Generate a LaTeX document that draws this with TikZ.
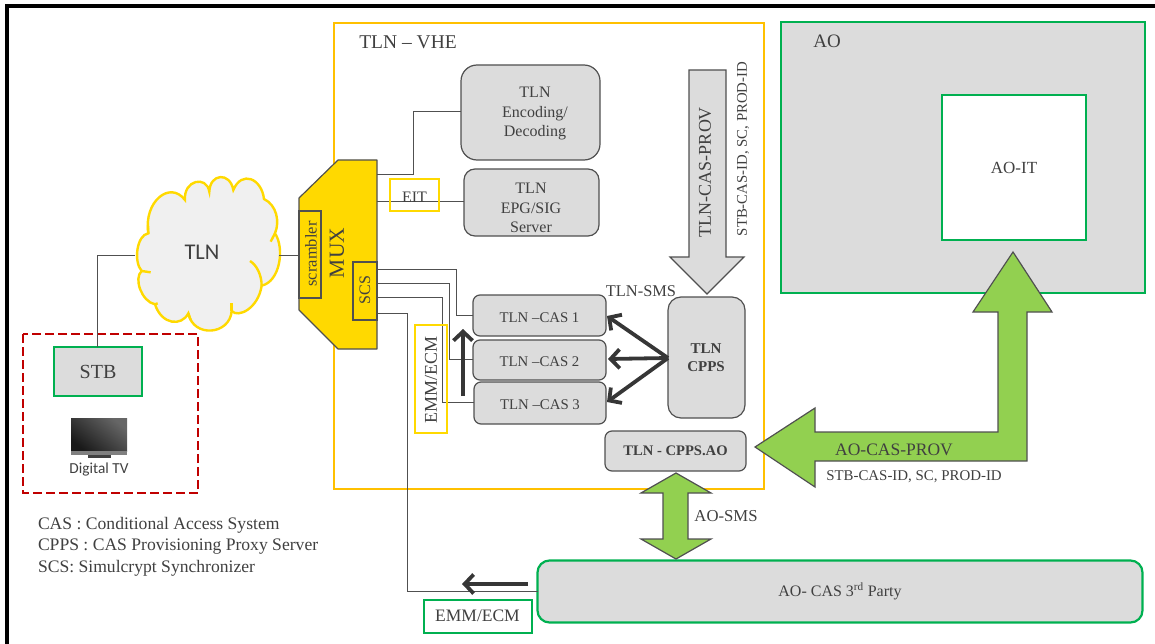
\documentclass[tikz,border=0pt]{standalone}
\usepackage{fontspec}
\setmainfont{Liberation Serif}
\newfontfamily\labelsans{Carlito}
\usepackage{xcolor}
\usetikzlibrary{arrows.meta}

\definecolor{boxgrey}{HTML}{DCDCDC}
\definecolor{edgegrey}{HTML}{505050}
\definecolor{inkgrey}{HTML}{404040}
\definecolor{framegreen}{HTML}{00B050}
\definecolor{arrowgreen}{HTML}{92D050}
\definecolor{muxyellow}{HTML}{FFD900}
\definecolor{vheorange}{HTML}{FFC000}
\definecolor{homered}{HTML}{C00000}

\tikzset{
	txt/.style={text=inkgrey,inner sep=0pt,outer sep=0pt,font=\fontsize{16}{19.5}\selectfont,align=center},
	graybox/.style={txt,draw=edgegrey,fill=boxgrey,line width=1.2pt,rounded corners=#1},
	graybox/.default=8pt,
	greenbox/.style={txt,draw=framegreen,fill=boxgrey,line width=2pt},
	yellowbox/.style={txt,draw=muxyellow,line width=1.5pt},
	casbox/.style={graybox=7pt,font=\fontsize{14.8}{18}\selectfont,text height=13pt,text depth=0pt},
	wire/.style={draw=edgegrey,line width=1pt},
	thickarrow/.style={draw=inkgrey!85!black,line width=3.8pt,-{Straight Barb[length=9pt,width=19pt,line width=3.8pt]}},
	bigarrow/.style={draw=edgegrey,line width=1.2pt,line join=miter},
}

\begin{document}
\begin{tikzpicture}[x=1pt,y=-1pt]
	\useasboundingbox (0,0) rectangle (1155,644);

	% outer frame
	\draw[line width=4pt,black] (7,644) -- (7,6) -- (1155,6);

	% containers
	\draw[draw=vheorange,line width=2pt] (334,23) rectangle (764,489);
	\node[txt,font=\fontsize{19.5}{22}\selectfont] (vhe) at (408,42) {TLN -- VHE};
	\node[greenbox,minimum width=364pt,minimum height=271pt] (ao) at (963,157.5) {};
	\node[txt,font=\fontsize{19}{22}\selectfont] (aotitle) at (827,41) {AO};
	\node[greenbox,fill=white,minimum width=144pt,minimum height=145pt,font=\fontsize{17}{20}\selectfont] (aoit) at (1014,167.5) {AO-IT};

	% home network
	\draw[draw=homered,line width=1.4pt,dash pattern=on 9pt off 4pt] (23,334) rectangle (198,493);
	\node[greenbox,line width=1.5pt,minimum width=88pt,minimum height=49pt,font=\fontsize{20}{22}\selectfont] (stb) at (98,371.5) {STB};
	\shade[top color=black!60,bottom color=black!90,shading angle=-40] (71,418) rectangle (127,451);
	\fill[black!50] (71,451) rectangle (127,455);
	\fill[black!75] (88,455) rectangle (111,458);
	\node[txt,font=\labelsans\fontsize{15.3}{17}\selectfont] (tv) at (99,469) {Digital TV};

	% cloud
	\begin{scope}[shift={(120,175)},x=0.3333pt,y=-0.3333pt,draw=muxyellow,line width=2.4pt]
		\filldraw[fill=black!6] (85,175) .. controls (70,80) and (150,15) .. (195,75)
			.. controls (190,15) and (260,0) .. (268,50)
			.. controls (270,-5) and (330,-10) .. (340,45)
			.. controls (365,-15) and (425,10) .. (432,72)
			.. controls (470,90) and (480,140) .. (465,175)
			.. controls (495,220) and (480,320) .. (425,332)
			.. controls (415,400) and (355,430) .. (335,408)
			.. controls (330,480) and (220,490) .. (205,415)
			.. controls (185,455) and (125,450) .. (105,388)
			.. controls (65,380) and (40,310) .. (65,288)
			.. controls (40,260) and (50,180) .. (85,175) -- cycle;
		\draw (425,332) .. controls (425,300) and (410,270) .. (390,258);
		\draw (465,175) -- (452,200);
		\draw (335,408) -- (335,385);
		\draw (65,288) -- (92,292);
		\draw (105,388) -- (113,385);
		\draw (85,175) -- (84,150);
		\draw (205,415) -- (212,435);
	\end{scope}
	\node[txt,font=\labelsans\fontsize{22.5}{25}\selectfont] (tln) at (202,252) {TLN};
	\coordinate (cloudw) at (135,255);
	\coordinate (cloude) at (279,255);
	\draw[wire] (cloudw) -- (97,255) -- (stb.north -| 97,0);

	% connectors behind the boxes
	\coordinate (muxa) at (377,175);
	\coordinate (muxb) at (377,202);
	\coordinate (scsa) at (377,269);
	\coordinate (scsb) at (377,283);
	\coordinate (scsc) at (377,297);
	\coordinate (scsd) at (377,313);

	% mux
	\filldraw[fill=muxyellow,draw=edgegrey,line width=1.2pt,line join=round] (338,160) -- (377,160) -- (377,349) -- (338,349) -- (299,310) -- (299,198) -- cycle;
	\node[txt,draw=edgegrey,fill=muxyellow,line width=1.2pt,minimum width=22pt,minimum height=87pt] (scrbox) at (310,254.5) {};
	\node[txt,rotate=90,font=\fontsize{16.5}{18}\selectfont] (scrambler) at (311,254) {scrambler};
	\node[txt,rotate=90,font=\fontsize{21.5}{24}\selectfont] (mux) at (337,253) {MUX};
	\node[txt,draw=edgegrey,fill=muxyellow,line width=1.2pt,minimum width=24pt,minimum height=58pt] (scsbox) at (365,291) {};
	\node[txt,rotate=90] (scs) at (365,290) {SCS};
	\draw[wire] (cloude) -- (scrbox.west |- cloude);

	% boxes
	\node[graybox=16pt,minimum width=139pt,minimum height=95pt] (enc) at (530.5,112.5) {};
	\node[txt] (enctxt) at (535,113.5) {TLN\\Encoding/\\Decoding};
	\node[graybox=11pt,minimum width=135pt,minimum height=67pt] (epg) at (531.5,202.5) {};
	\node[txt] (epgtxt) at (531,208) {TLN\\EPG/SIG\\Server};
	\node[casbox,minimum width=133pt,minimum height=41pt] (casa) at (539.5,315.5) {TLN --CAS 1};
	\node[casbox,minimum width=133pt,minimum height=40pt] (casb) at (539.5,360) {TLN --CAS 2};
	\node[casbox,minimum width=132pt,minimum height=42pt] (casc) at (540,403) {TLN --CAS 3};
	\node[graybox=13pt,minimum width=77pt,minimum height=121pt] (cpps) at (706.5,357.5) {};
	\node[txt,font=\bfseries\fontsize{15}{18}\selectfont] (cppstxt) at (706,358) {TLN\\CPPS};
	\node[graybox=7pt,minimum width=141pt,minimum height=40pt,font=\bfseries\fontsize{14.6}{18}\selectfont] (cppsao) at (675.5,451) {TLN - CPPS.AO};
	\node[greenbox,line width=2.2pt,rounded corners=12pt,minimum width=605pt,minimum height=62pt] (party) at (840,591.5) {AO- CAS 3\textsuperscript{rd} Party};
	\node[greenbox,fill=white,minimum width=108pt,minimum height=33pt,font=\fontsize{17.5}{20}\selectfont] (emmb) at (477.5,616) {EMM/ECM};

	% wires
	\draw[wire] (muxa) -- (413,175) -- (413,112) -- (enc.west |- 0,112);
	\draw[wire] (muxb) -- (epg.west |- muxb);
	\draw[wire] (scsa) -- (456,269) -- (456,315) -- (casa.west |- 0,315);
	\draw[wire] (scsb) -- (449,283) -- (449,359) -- (casb.west |- 0,359);
	\draw[wire] (scsc) -- (442,297) -- (442,402) -- (casc.west |- 0,402);
	\draw[wire] (scsd) -- (407,313) -- (407,591) -- (party.west |- 0,591);

	% small labelled frames
	\node[yellowbox,minimum width=49pt,minimum height=32pt] (eit) at (414.5,195) {};
	\node[txt] (eittxt) at (414.5,197) {EIT};
	\node[yellowbox,minimum width=32pt,minimum height=108pt] (emmbox) at (431,379) {};
	\node[txt,rotate=90,font=\fontsize{18}{20}\selectfont] (emm) at (431,380) {EMM/ECM};

	% thick arrows
	\coordinate (upstart) at (463,396);
	\coordinate (upend) at (463,329);
	\coordinate (emmstart) at (528,584);
	\coordinate (emmend) at (462,584);
	\coordinate (cppsw) at (668,358);
	\draw[thickarrow] (upstart) -- (upend);
	\draw[thickarrow] (emmstart) -- (emmend);
	\draw[thickarrow] (cppsw) -- (607,316);
	\draw[thickarrow] (cppsw) -- (608,359);
	\draw[thickarrow] (cppsw) -- (607,402);

	% big arrows
	\filldraw[bigarrow,fill=boxgrey] (689,70) -- (726,70) -- (726,257) -- (744,257) -- (707,294) -- (670,257) -- (689,257) -- cycle;
	\filldraw[bigarrow,fill=arrowgreen] (755,447) -- (815,408) -- (815,432) -- (998,432) -- (998,312) -- (973,312) -- (1013,252) -- (1052,312) -- (1027,312) -- (1027,461) -- (815,461) -- (815,487) -- cycle;
	\filldraw[bigarrow,fill=arrowgreen] (676,473) -- (711,493) -- (688,493) -- (688,539) -- (711,539) -- (676,559) -- (641,539) -- (663,539) -- (663,493) -- (641,493) -- cycle;

	% labels
	\node[txt,rotate=90,font=\fontsize{18}{20}\selectfont] (prov) at (705,172) {TLN-CAS-PROV};
	\node[txt,rotate=90,font=\fontsize{14.8}{17}\selectfont] (idone) at (743,149) {STB-CAS-ID, SC, PROD-ID};
	\node[txt,font=\fontsize{16.4}{18}\selectfont] (smsa) at (641,291.5) {TLN-SMS};
	\node[txt,font=\fontsize{17.5}{20}\selectfont] (aoprov) at (894,449.5) {AO-CAS-PROV};
	\node[txt,font=\fontsize{14.9}{17}\selectfont] (idtwo) at (914,476.5) {STB-CAS-ID, SC, PROD-ID};
	\node[txt,font=\fontsize{16.7}{19}\selectfont] (smsb) at (726,516.5) {AO-SMS};

	% legend
	\node[txt,anchor=west,font=\fontsize{17.6}{20}\selectfont] (legcas) at (38,525) {CAS : Conditional Access System};
	\node[txt,anchor=west,font=\fontsize{17.6}{20}\selectfont] (legcpps) at (38,546.5) {CPPS : CAS Provisioning Proxy Server};
	\node[txt,anchor=west,font=\fontsize{17.6}{20}\selectfont] (legscs) at (38,568) {SCS: Simulcrypt Synchronizer};
\end{tikzpicture}
\end{document}
